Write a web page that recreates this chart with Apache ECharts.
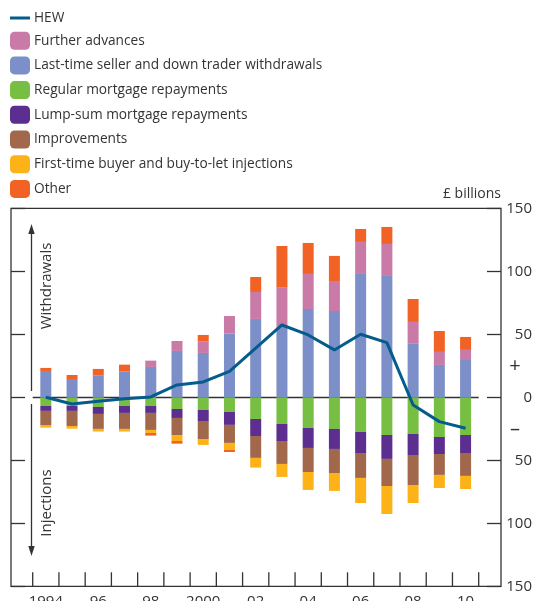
<!DOCTYPE html>
<html>
<head>
<meta charset="utf-8">
<script src="https://cdn.jsdelivr.net/npm/echarts@6/dist/echarts.min.js"></script>
<style>
    html, body {margin: 0; padding: 0; background: #fff;}
    #app {width: 534px; height: 601px;}
</style>
</head>
<body>
<div id="app"></div>
<script>
//年份
var years = ['1994', '1995', '1996', '1997', '1998', '1999', '2000', '2001', '2002', '2003', '2004', '2005', '2006', '2007', '2008', '2009', '2010']
var yearLabels = ['1994', '', '96', '', '98', '', '2000', '', '02', '', '04', '', '06', '', '08', '', '10']

//提取 (正值)
var lastTime = [20.9, 13.8, 17.2, 20.4, 24.1, 36.8, 35.2, 50.5, 62.2, 56.0, 70.1, 68.5, 97.9, 96.3, 42.9, 25.7, 29.6]
var further = [0, 0, 0, 0, 5.0, 7.9, 9.0, 14.0, 21.4, 31.0, 27.8, 23.8, 25.4, 25.4, 16.9, 10.3, 8.0]

//注入 (负值)
var regular = [-6.9, -6.9, -7.7, -6.9, -6.9, -9.3, -10.1, -11.6, -17.2, -21.2, -24.3, -25.1, -27.5, -29.9, -29.1, -31.5, -29.9]
var lumpSum = [-3.9, -3.9, -5.5, -5.5, -5.5, -7.1, -8.7, -10.3, -13.5, -13.5, -15.9, -15.9, -16.7, -19.0, -16.7, -13.5, -14.3]
var improvements = [-11.2, -12.0, -11.9, -12.7, -13.5, -13.5, -14.3, -14.3, -17.4, -18.2, -19.1, -19.1, -19.8, -21.5, -23.8, -16.6, -18.2]
var firstTime = [-2.1, -2.1, -2.1, -2.1, -2.4, -4.8, -4.7, -5.3, -7.7, -10.3, -14.2, -14.2, -19.9, -22.2, -14.3, -10.4, -10.4]
var other = [2.4, 3.9, 5.3, 5.5, -2.1, -2.1, 5.3, -1.9, 11.9, 33.1, 24.6, 19.9, 10.3, 13.5, 18.2, 16.6, 10.3]

//HEW
var hew = [0, -5.3, -3.2, -1.1, 0.3, 9.8, 12.2, 20.6, 39.0, 57.4, 49.5, 37.6, 50.0, 43.4, -6.1, -19.3, -24.6]

var chart = echarts.init(document.getElementById('app'), null, {renderer: 'canvas'})

var font = '"Open Sans", "Noto Sans", sans-serif'
var ink = '#333'

var barSeries = (name, data, color) => ({
    name: name,
    type: 'bar',
    stack: 'all',
    xAxisIndex: 1,
    yAxisIndex: 3,
    barWidth: 11,
    itemStyle: {color: color},
    data: data
})

chart.setOption({
    animation: false,
    textStyle: {fontFamily: font},
    legend: {
        orient: 'vertical',
        left: 10,
        top: 11,
        padding: 0,
        itemWidth: 20,
        itemHeight: 18,
        itemGap: 6.7,
        textStyle: {fontSize: 13.7, color: ink, padding: [0, 0, 0, -1]},
        data: [
            {name: 'HEW', icon: 'path://M0,0 L20,0 L20,3 L0,3 Z'},
            'Further advances', 'Last-time seller and down trader withdrawals', 'Regular mortgage repayments',
            'Lump-sum mortgage repayments', 'Improvements', 'First-time buyer and buy-to-let injections', 'Other'
        ]
    },
    grid: [
        //外框
        {left: 11, right: 33, top: 208.3, bottom: 14.7, show: true, borderColor: ink, borderWidth: 1.3,
            backgroundColor: 'transparent', outerBoundsMode: 'none'},
        //柱状图区域
        {left: 32.7, right: 55.3, top: 208.3, bottom: 14.7, outerBoundsMode: 'none'}
    ],
    xAxis: [
        {gridIndex: 0, type: 'value', show: false, min: 0, max: 1},
        {
            gridIndex: 1,
            type: 'category',
            position: 'bottom',
            data: years,
            axisLine: {show: false, onZero: false},
            axisTick: {show: false},
            axisLabel: {
                interval: 0,
                margin: 8,
                fontSize: 15,
                color: ink,
                formatter: (v, i) => yearLabels[i]
            }
        }
    ],
    yAxis: [
        {
            gridIndex: 0, type: 'value', position: 'left', min: -150, max: 150, interval: 50,
            axisLine: {show: false},
            axisTick: {show: true, inside: true, length: 14, lineStyle: {color: ink, width: 1.3}},
            axisLabel: {show: false},
            splitLine: {show: false}
        },
        {
            gridIndex: 0, type: 'value', position: 'right', min: -150, max: 150, interval: 50,
            name: '£ billions',
            nameLocation: 'end',
            nameGap: 3,
            nameTextStyle: {fontSize: 14, color: ink, align: 'right', fontFamily: font},
            axisLine: {show: false},
            axisTick: {show: true, inside: true, length: 14, lineStyle: {color: ink, width: 1.3}},
            axisLabel: {
                margin: 31,
                align: 'right',
                fontSize: 15,
                color: ink,
                formatter: (v) => `${Math.abs(v)}`
            },
            splitLine: {show: false}
        },
        {
            gridIndex: 0, type: 'value', position: 'right', min: -150, max: 150, interval: 25,
            axisLine: {show: false},
            axisTick: {show: false},
            axisLabel: {
                margin: 14,
                align: 'center',
                fontSize: 20,
                color: ink,
                padding: [4, 0, 0, 0],
                formatter: (v) => v === 25 ? '+' : (v === -25 ? '–' : '')
            },
            splitLine: {show: false}
        },
        {gridIndex: 1, type: 'value', min: -150, max: 150, interval: 50, show: false, splitLine: {show: false}}
    ],
    series: [
        barSeries('Last-time seller and down trader withdrawals', lastTime, '#7c8fc9'),
        barSeries('Further advances', further, '#c97aa6'),
        barSeries('Regular mortgage repayments', regular, '#77bf43'),
        barSeries('Lump-sum mortgage repayments', lumpSum, '#5b2e8f'),
        barSeries('Improvements', improvements, '#a1684b'),
        barSeries('First-time buyer and buy-to-let injections', firstTime, '#fdb317'),
        barSeries('Other', other, '#f26224'),
        {
            name: 'HEW',
            type: 'line',
            xAxisIndex: 1,
            yAxisIndex: 3,
            symbol: 'none',
            z: 5,
            itemStyle: {color: '#045b8c'},
            lineStyle: {color: '#045b8c', width: 3},
            data: hew,
            //零线
            markLine: {
                silent: true,
                symbol: 'none',
                z: 1,
                label: {show: false},
                lineStyle: {color: ink, width: 1.3, type: 'solid'},
                data: [{yAxis: 0}]
            }
        }
    ]
})

//箭头和文字
var marks = [
    {type: 'line', shape: {x1: 31.5, y1: 232, x2: 31.5, y2: 391}, style: {stroke: ink, lineWidth: 1.3}},
    {type: 'polygon', shape: {points: [[31.5, 224], [28.3, 234], [34.7, 234]]}, style: {fill: ink}},
    {type: 'line', shape: {x1: 31.5, y1: 404, x2: 31.5, y2: 548}, style: {stroke: ink, lineWidth: 1.3}},
    {type: 'polygon', shape: {points: [[31.5, 556], [28.3, 546], [34.7, 546]]}, style: {fill: ink}},
    {type: 'text', x: 47, y: 286, rotation: Math.PI / 2,
        style: {text: 'Withdrawals', fontSize: 15, fontFamily: font, fill: ink, align: 'center', verticalAlign: 'middle'}},
    {type: 'text', x: 47, y: 503, rotation: Math.PI / 2,
        style: {text: 'Injections', fontSize: 15, fontFamily: font, fill: ink, align: 'center', verticalAlign: 'middle'}}
]

//年份之间的刻度 (由坐标轴换算位置)
var bottomY = chart.convertToPixel({yAxisIndex: 3}, -150)
var centers = years.map((y, i) => chart.convertToPixel({xAxisIndex: 1}, i))
var step = centers[1] - centers[0]
var edges = centers.map((c) => c - step / 2)
edges.push(centers[centers.length - 1] + step / 2)

edges.forEach((x) => {
    marks.push({
        type: 'line',
        silent: true,
        shape: {x1: x, y1: bottomY, x2: x, y2: bottomY - 14},
        style: {stroke: ink, lineWidth: 1.3}
    })
})

chart.setOption({graphic: marks})
</script>
</body>
</html>
